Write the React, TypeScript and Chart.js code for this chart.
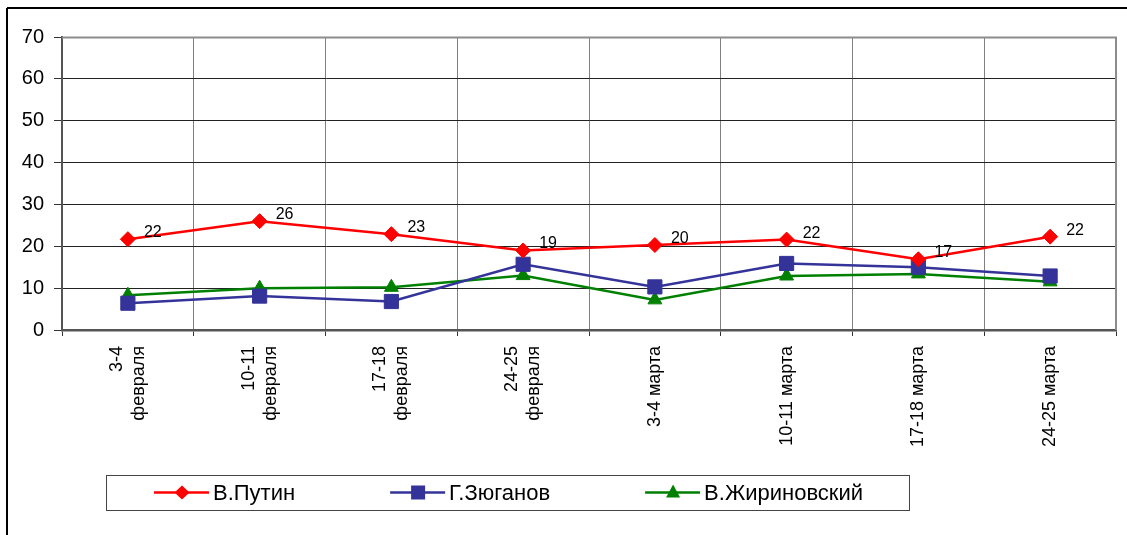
import React, { useEffect, useRef } from 'react';
import { Chart, registerables } from 'chart.js';

Chart.register(...registerables);

const categories: string[][] = [
  ['3-4', 'февраля'],
  ['10-11', 'февраля'],
  ['17-18', 'февраля'],
  ['24-25', 'февраля'],
  ['3-4 марта'],
  ['10-11 марта'],
  ['17-18 марта'],
  ['24-25 марта'],
];

const seriesNames = ['В.Путин', 'Г.Зюганов', 'В.Жириновский'];
const putin = [21.7, 26.0, 22.9, 19.0, 20.3, 21.6, 16.9, 22.3];
const zyuganov = [6.4, 8.1, 6.8, 15.7, 10.3, 15.9, 15.0, 12.9];
const zhirinovsky = [8.3, 10.0, 10.2, 13.0, 7.2, 12.9, 13.4, 11.5];

const yMin = 0;
const yMax = 70;
const yStep = 10;

const FONT = '"Liberation Sans", Arial, sans-serif';
const RED = '#FF0000';
const BLUE = '#333399';
const GREEN = '#008000';

function drawMarker(ctx: CanvasRenderingContext2D, style: string, x: number, y: number, color: string) {
  ctx.save();
  ctx.fillStyle = color;
  ctx.beginPath();
  if (style === 'rectRot') {
    ctx.moveTo(x, y - 7);
    ctx.lineTo(x + 7.5, y);
    ctx.lineTo(x, y + 7);
    ctx.lineTo(x - 7.5, y);
    ctx.closePath();
  } else if (style === 'rect') {
    ctx.rect(x - 7, y - 7, 14, 14);
  } else {
    ctx.moveTo(x, y - 8);
    ctx.lineTo(x + 7, y + 5);
    ctx.lineTo(x - 7, y + 5);
    ctx.closePath();
  }
  ctx.fill();
  ctx.restore();
}

const customPlugin = {
  id: 'customDecor',
  beforeDraw(chart: any) {
    const ctx: CanvasRenderingContext2D = chart.ctx;
    ctx.save();
    ctx.fillStyle = '#ffffff';
    ctx.fillRect(0, 0, chart.width, chart.height);
    ctx.strokeStyle = '#000000';
    ctx.lineWidth = 2;
    ctx.beginPath();
    ctx.moveTo(7, 8);
    ctx.lineTo(chart.width, 8);
    ctx.moveTo(7, 8);
    ctx.lineTo(7, chart.height);
    ctx.stroke();
    ctx.restore();
  },
  afterDraw(chart: any) {
    const ctx: CanvasRenderingContext2D = chart.ctx;
    const area = chart.chartArea;
    const xScale = chart.scales.x;

    // plot frame top/right
    ctx.save();
    ctx.strokeStyle = '#8c8c8c';
    ctx.lineWidth = 2;
    ctx.beginPath();
    ctx.moveTo(area.left, area.top + 0.5);
    ctx.lineTo(area.right, area.top + 0.5);
    ctx.lineTo(area.right, area.bottom);
    ctx.stroke();
    ctx.restore();

    // x category labels (rotated)
    ctx.save();
    ctx.fillStyle = '#000000';
    ctx.font = `18px ${FONT}`;
    ctx.textAlign = 'right';
    ctx.textBaseline = 'middle';
    categories.forEach((lines, i) => {
      const cx = xScale.getPixelForValue(i);
      lines.forEach((line, j) => {
        const off = (j - (lines.length - 1) / 2) * 22;
        ctx.save();
        ctx.translate(cx + off, area.bottom + 16);
        ctx.rotate(-Math.PI / 2);
        ctx.fillText(line, 0, 0);
        ctx.restore();
      });
    });
    ctx.restore();

    // legend
    const boxL = 106, boxT = 475, boxW = 803, boxH = 35;
    ctx.save();
    ctx.strokeStyle = '#444444';
    ctx.lineWidth = 1;
    ctx.strokeRect(boxL + 0.5, boxT + 0.5, boxW, boxH);
    ctx.font = `22px ${FONT}`;
    ctx.textAlign = 'left';
    ctx.textBaseline = 'middle';
    const ly = boxT + 17.5;
    let lx = 154;
    chart.data.datasets.forEach((ds: any) => {
      ctx.strokeStyle = ds.borderColor;
      ctx.lineWidth = 2.5;
      ctx.beginPath();
      ctx.moveTo(lx, ly);
      ctx.lineTo(lx + 55, ly);
      ctx.stroke();
      drawMarker(ctx, ds.pointStyle, lx + 28, ly, ds.borderColor);
      ctx.fillStyle = '#000000';
      ctx.fillText(ds.label, lx + 59, ly + 1);
      lx += 59 + ctx.measureText(ds.label).width + 95;
    });
    ctx.restore();
  },
  afterDatasetsDraw(chart: any) {
    const ctx: CanvasRenderingContext2D = chart.ctx;
    const meta = chart.getDatasetMeta(0);
    const data = chart.data.datasets[0].data as number[];
    ctx.save();
    ctx.fillStyle = '#000000';
    ctx.font = `16px ${FONT}`;
    ctx.textAlign = 'left';
    ctx.textBaseline = 'alphabetic';
    meta.data.forEach((pt: any, i: number) => {
      ctx.fillText(String(Math.round(data[i])), pt.x + 16, pt.y - 2);
    });
    ctx.restore();
  },
};

export default function App() {
  const canvasRef = useRef<HTMLCanvasElement | null>(null);

  useEffect(() => {
    if (!canvasRef.current) return;
    const chart = new Chart(canvasRef.current, {
      type: 'line',
      data: {
        labels: categories.map((c) => c.join(' ')),
        datasets: [
          {
            label: seriesNames[0],
            data: putin,
            borderColor: RED,
            backgroundColor: RED,
            borderWidth: 2.5,
            pointStyle: 'rectRot',
            pointRadius: 7.5,
            pointBorderWidth: 1,
            pointBackgroundColor: RED,
            pointBorderColor: RED,
            tension: 0,
          },
          {
            label: seriesNames[1],
            data: zyuganov,
            borderColor: BLUE,
            backgroundColor: BLUE,
            borderWidth: 2.5,
            pointStyle: 'rect',
            pointRadius: 10,
            pointBorderWidth: 1,
            pointBackgroundColor: BLUE,
            pointBorderColor: BLUE,
            tension: 0,
          },
          {
            label: seriesNames[2],
            data: zhirinovsky,
            borderColor: GREEN,
            backgroundColor: GREEN,
            borderWidth: 2.5,
            pointStyle: 'triangle',
            pointRadius: 8,
            pointBorderWidth: 1,
            pointBackgroundColor: GREEN,
            pointBorderColor: GREEN,
            tension: 0,
          },
        ],
      },
      options: {
        responsive: false,
        animation: false,
        devicePixelRatio: 1,
        events: [],
        layout: { padding: { left: 0, top: 37, right: 11, bottom: 0 } },
        plugins: {
          legend: { display: false },
          tooltip: { enabled: false },
          title: { display: false },
        },
        scales: {
          x: {
            type: 'category',
            offset: true,
            grid: {
              offset: true,
              color: '#808080',
              lineWidth: 1,
              drawTicks: true,
              tickLength: 6,
              tickColor: '#333333',
            },
            border: { color: '#555555', width: 2.5 },
            ticks: { display: false },
            afterFit: (s: any) => {
              s.height = 205;
            },
          },
          y: {
            min: yMin,
            max: yMax,
            ticks: {
              stepSize: yStep,
              color: '#000000',
              font: { size: 20, family: FONT },
              padding: 10,
            },
            grid: {
              color: '#222222',
              lineWidth: 1,
              tickLength: 8,
              tickColor: '#333333',
            },
            border: { color: '#555555', width: 2 },
            afterFit: (s: any) => {
              s.width = 62;
            },
          },
        },
      },
      plugins: [customPlugin],
    });
    return () => chart.destroy();
  }, []);

  return (
    <div style={{ position: 'absolute', left: 0, top: 0, width: 1127, height: 535 }}>
      <canvas ref={canvasRef} width={1127} height={535} style={{ display: 'block', width: 1127, height: 535 }} />
    </div>
  );
}
